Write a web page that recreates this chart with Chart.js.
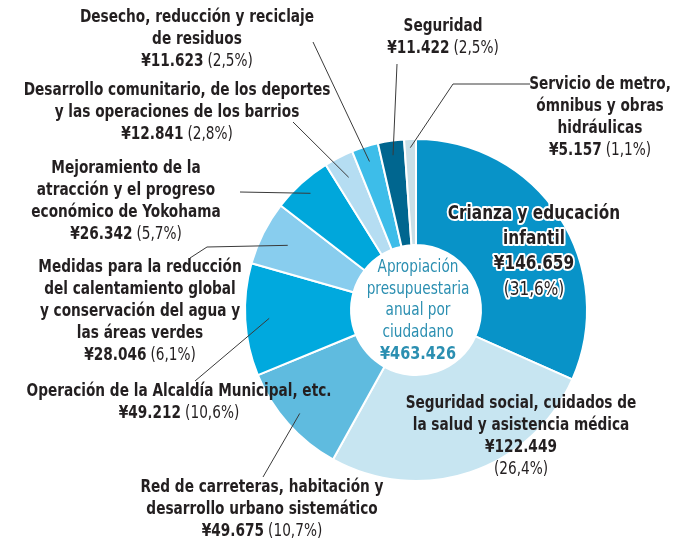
<!doctype html>
<html lang="es">
<head>
  <meta charset="utf-8" />
  <title>Apropiación presupuestaria</title>
  <style>
    html, body { margin: 0; padding: 0; background: #fff; }
  </style>
</head>
<body>
  <canvas id="lienzo" width="697" height="538"></canvas>
  <script src="https://cdn.jsdelivr.net/npm/chart.js"></script>
  <script>
    // datos
    const categorias = [
      ['Crianza y educación', 'infantil'],
      ['Seguridad social, cuidados de', 'la salud y asistencia médica'],
      ['Red de carreteras, habitación y', 'desarrollo urbano sistemático'],
      ['Operación de la Alcaldía Municipal, etc.'],
      ['Medidas para la reducción', 'del calentamiento global', 'y conservación del agua y', 'las áreas verdes'],
      ['Mejoramiento de la', 'atracción y el progreso', 'económico de Yokohama'],
      ['Desarrollo comunitario, de los deportes', 'y las operaciones de los barrios'],
      ['Desecho, reducción y reciclaje', 'de residuos'],
      ['Seguridad'],
      ['Servicio de metro,', 'ómnibus y obras', 'hidráulicas']
    ];
    const montos = [146659, 122449, 49675, 49212, 28046, 26342, 12841, 11623, 11422, 5157];
    const porcentajes = ['31,6%', '26,4%', '10,7%', '10,6%', '6,1%', '5,7%', '2,8%', '2,5%', '2,5%', '1,1%'];
    const total = 463426;
    const textoCentro = ['Apropiación', 'presupuestaria', 'anual por', 'ciudadano'];
    const colores = ['#0893c8', '#c7e5f1', '#5fbbdf', '#00a9de', '#88cdee',
                     '#00a7db', '#b5ddf2', '#3dbde9', '#00668f', '#c9dfe7'];

    // posiciones de las etiquetas (x centro, y primera linea, puntos de la guia, fraccion del radio)
    const etiquetas = [
      { x: 534, y: 214, grande: true },
      { x: 521, y: 404, separado: true },
      { x: 262, y: 488, guia: [[263, 477]], r: 0.91 },
      { x: 179, y: 392, guia: [[195, 381]], r: 0.86 },
      { x: 140, y: 268, guia: [[190, 258], [207, 247]], r: 0.84 },
      { x: 126, y: 169, guia: [[240, 192]], r: 0.92 },
      { x: 177, y: 91, guia: [[293, 122]], r: 0.87 },
      { x: 197, y: 18, guia: [[313, 42]], r: 0.91 },
      { x: 443, y: 27, guia: [[397, 64]], r: 0.915 },
      { x: 600, y: 85, guia: [[530, 84], [453, 84]], r: 0.95 }
    ];

    const FUENTE = "'Liberation Sans Narrow', 'DejaVu Sans Condensed', sans-serif";
    const OSCURO = '#231f20';
    const ALTO = 22;
    let S = 1; // compresion horizontal de la letra

    function yen(n) {
      return '¥' + String(n).replace(/\B(?=(\d{3})+(?!\d))/g, '.');
    }

    function escribir(ctx, t, x, y, trazo) {
      ctx.save();
      ctx.translate(x, y);
      ctx.scale(S, 1);
      if (trazo) ctx.strokeText(t, 0, 0);
      ctx.fillText(t, 0, 0);
      ctx.restore();
    }

    function lineaMixta(ctx, a, b, x, y, size) {
      ctx.font = 'bold ' + size + 'px ' + FUENTE;
      const wa = ctx.measureText(a).width * S;
      ctx.font = size + 'px ' + FUENTE;
      const wb = ctx.measureText(b).width * S;
      const ini = x - (wa + 4 + wb) / 2;
      ctx.textAlign = 'left';
      ctx.font = 'bold ' + size + 'px ' + FUENTE;
      escribir(ctx, a, ini, y);
      ctx.font = size + 'px ' + FUENTE;
      escribir(ctx, b, ini + wa + 4, y);
      ctx.textAlign = 'center';
    }

    const rotulos = {
      id: 'rotulos',
      afterDraw(chart) {
        const ctx = chart.ctx;
        const arcos = chart.getDatasetMeta(0).data;
        ctx.save();
        ctx.textBaseline = 'middle';
        ctx.textAlign = 'center';
        ctx.font = 'bold 17px ' + FUENTE;
        S = 305 / ctx.measureText(categorias[3][0]).width;

        arcos.forEach((arco, i) => {
          const p = arco.getProps(['x', 'y', 'startAngle', 'endAngle', 'outerRadius']);
          const e = etiquetas[i];
          // guia
          if (e.guia) {
            const medio = (p.startAngle + p.endAngle) / 2;
            const px = p.x + Math.cos(medio) * p.outerRadius * e.r;
            const py = p.y + Math.sin(medio) * p.outerRadius * e.r;
            ctx.strokeStyle = '#3a3a3a';
            ctx.lineWidth = 1;
            ctx.beginPath();
            ctx.moveTo(e.guia[0][0], e.guia[0][1]);
            e.guia.slice(1).forEach(q => ctx.lineTo(q[0], q[1]));
            ctx.lineTo(px, py);
            ctx.stroke();
          }
          // texto
          ctx.fillStyle = OSCURO;
          if (e.grande) {
            const size = 19;
            const lineas = categorias[i].concat([yen(montos[i])]);
            ctx.lineJoin = 'round';
            ctx.strokeStyle = '#fff';
            ctx.lineWidth = 4;
            ctx.font = 'bold ' + size + 'px ' + FUENTE;
            lineas.forEach((t, k) => escribir(ctx, t, e.x, e.y + k * 25, true));
            ctx.font = size + 'px ' + FUENTE;
            escribir(ctx, '(' + porcentajes[i] + ')', e.x, e.y + lineas.length * 25 + 1, true);
            return;
          }
          const size = 17;
          ctx.font = 'bold ' + size + 'px ' + FUENTE;
          categorias[i].forEach((t, k) => escribir(ctx, t, e.x, e.y + k * ALTO));
          const yv = e.y + categorias[i].length * ALTO;
          if (e.separado) {
            ctx.font = 'bold ' + size + 'px ' + FUENTE;
            escribir(ctx, yen(montos[i]), e.x, yv);
            ctx.font = size + 'px ' + FUENTE;
            escribir(ctx, '(' + porcentajes[i] + ')', e.x, yv + ALTO);
          } else {
            lineaMixta(ctx, yen(montos[i]), '(' + porcentajes[i] + ')', e.x, yv, size);
          }
        });

        // centro
        const c = arcos[0].getProps(['x', 'y']);
        ctx.fillStyle = '#2b8fb1';
        ctx.font = '17px ' + FUENTE;
        textoCentro.forEach((t, k) => escribir(ctx, t, c.x + 2, 268 + k * 21.5));
        ctx.font = 'bold 18px ' + FUENTE;
        escribir(ctx, yen(total), c.x + 2, 268 + 4 * 21.5);
        ctx.restore();
      }
    };

    new Chart(document.getElementById('lienzo'), {
      type: 'doughnut',
      data: {
        labels: categorias.map(c => c.join(' ')),
        datasets: [{
          data: montos,
          backgroundColor: colores,
          borderColor: '#ffffff',
          borderWidth: 2
        }]
      },
      options: {
        responsive: false,
        animation: false,
        radius: 171,
        cutout: '38%',
        layout: { padding: { left: 135, top: 82, right: 0, bottom: 0 } },
        plugins: {
          legend: { display: false },
          tooltip: { enabled: false }
        }
      },
      plugins: [rotulos]
    });
  </script>
</body>
</html>
